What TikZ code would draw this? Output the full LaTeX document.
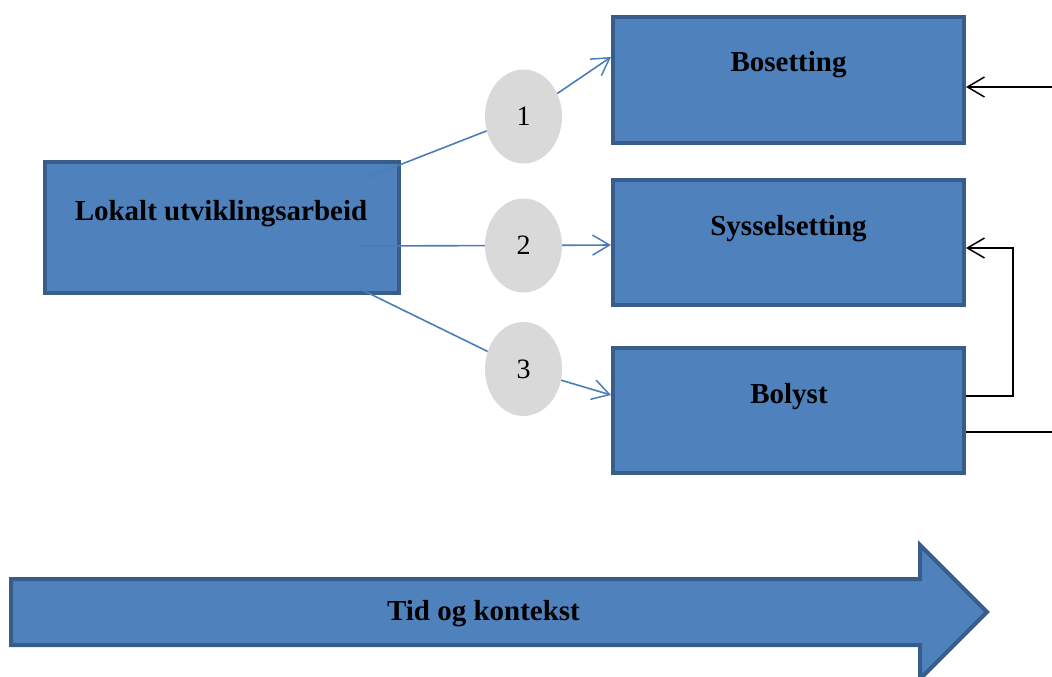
\documentclass[tikz,border=0pt]{standalone}
\usepackage{fontspec}
\setmainfont{Liberation Serif}
\usetikzlibrary{arrows.meta, shapes.geometric}

\definecolor{boxfill}{HTML}{4F81BD}
\definecolor{boxline}{HTML}{385D8A}
\definecolor{linkblue}{HTML}{4A7EBB}
\definecolor{circfill}{HTML}{D9D9D9}

\begin{document}
\begin{tikzpicture}[x=1pt, y=-1pt,
    box/.style={draw=boxline, fill=boxfill, line width=4pt, inner sep=0pt},
    lbl/.style={font=\fontsize{29}{29}\selectfont\bfseries, anchor=base, inner sep=0pt},
    num/.style={ellipse, fill=circfill, minimum width=77pt, minimum height=94pt, inner sep=0pt, font=\fontsize{28}{28}\selectfont},
    link/.style={draw=linkblue, line width=1.6pt},
    fb/.style={draw=black, line width=1.5pt},
    tip/.style={-{Straight Barb[length=17pt, width=20pt, line width=1.5pt]}}]
    \useasboundingbox (0,0) rectangle (1052,677);

    % boxes
    \node[box, minimum width=354pt, minimum height=131pt] (lok) at (222,227.5) {};
    \node[box, minimum width=351pt, minimum height=126pt] (bos) at (788.5,80) {};
    \node[box, minimum width=351pt, minimum height=125pt] (sys) at (788.5,242.5) {};
    \node[box, minimum width=351pt, minimum height=125pt] (bol) at (788.5,410.5) {};

    \node[lbl] (tlok) at (221,220) {Lokalt utviklingsarbeid};
    \node[lbl] (tbos) at (788.5,72) {Bosetting};
    \node[lbl] (tsys) at (788.5,235) {Sysselsetting};
    \node[lbl] (tbol) at (789,403) {Bolyst};

    % the three ways
    \coordinate (s1) at (366,178); \coordinate (s2) at (358,246); \coordinate (s3) at (358,288);
    \coordinate (t1) at (611,57); \coordinate (t2) at (611,245); \coordinate (t3) at (611,395);
    \node[num] (n1) at (523.5,116.5) {1};
    \node[num] (n2) at (523.5,245.5) {2};
    \node[num] (n3) at (523.5,369) {3};
    \draw[link] (s1) -- (n1);
    \draw[link] (s2) -- (n2);
    \draw[link] (s3) -- (n3);
    \draw[link, tip] (n1) -- (t1);
    \draw[link, tip] (n2) -- (t2);
    \draw[link, tip] (n3) -- (t3);

    % feedback on the right
    \coordinate (r1) at (1052,87); \coordinate (r2) at (1052,432); \coordinate (k) at (1013,248);
    \draw[fb, tip] (r1) -- (r1 -| bos.east);
    \draw[fb, tip] ([yshift=14.5pt]bol.east) -| (k) -- (k -| sys.east);
    \draw[fb] ([yshift=-21.5pt]bol.east) -- (r2);

    % time arrow
    \draw[draw=boxline, fill=boxfill, line width=4pt, line join=miter]
        (11,579) -- (920,579) -- (920,545) -- (987,612) -- (920,679) -- (920,645) -- (11,645) -- cycle;
    \node[lbl] (ttid) at (483.5,620) {Tid og kontekst};
\end{tikzpicture}
\end{document}
